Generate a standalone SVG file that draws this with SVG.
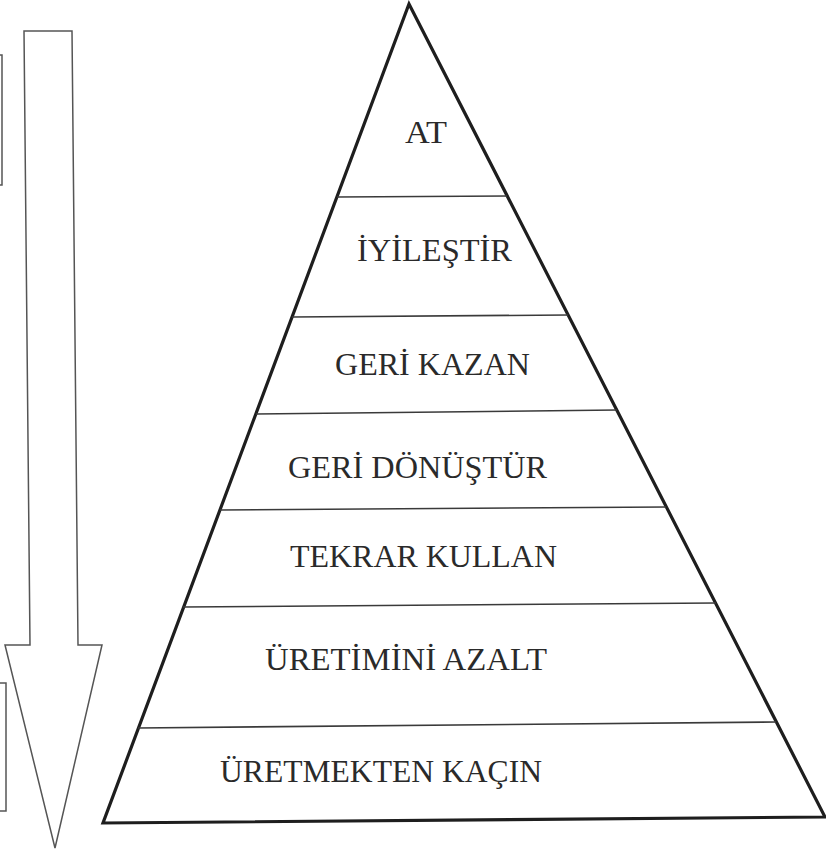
<svg xmlns="http://www.w3.org/2000/svg" width="826" height="860" viewBox="0 0 826 860">
<style>
.lbl{font-family:'Liberation Serif','Times New Roman',serif;font-size:31px;fill:#2a2a2a}
.div{stroke:#3a3a3a;stroke-width:1.6;fill:none}
.tri{stroke:#1e1e1e;stroke-width:3.2;fill:#fff;stroke-linejoin:miter}
.thin{stroke:#555;stroke-width:1.5;fill:#fff}
</style>
<rect width="826" height="860" fill="#fff"/>
<g id="side-box-top"><rect class="thin" x="-10" y="55" width="12" height="130"/></g>
<g id="side-box-bottom"><rect class="thin" x="-10" y="683" width="16" height="128"/></g>
<g id="arrow"><polygon class="thin" points="24,31 72,31 78,645 102,645 55,848 5,645 30,645"/></g>
<g id="pyramid"><polygon class="tri" points="409,4 825,817 103,823"/></g>
<g id="connectors">
<line class="div" x1="337" y1="197" x2="507" y2="196"/>
<line class="div" x1="292" y1="317" x2="568" y2="315"/>
<line class="div" x1="256" y1="414" x2="617" y2="410"/>
<line class="div" x1="220" y1="510" x2="666" y2="507"/>
<line class="div" x1="183" y1="607" x2="716" y2="603"/>
<line class="div" x1="138" y1="728" x2="776" y2="722"/>
</g>
<g id="tier-at"><text class="lbl" x="405" y="143" textLength="42" lengthAdjust="spacingAndGlyphs">AT</text></g>
<g id="tier-iyilestir"><text class="lbl" x="357" y="261" textLength="155" lengthAdjust="spacingAndGlyphs">İYİLEŞTİR</text></g>
<g id="tier-geri-kazan"><text class="lbl" x="335" y="375" textLength="195" lengthAdjust="spacingAndGlyphs">GERİ KAZAN</text></g>
<g id="tier-geri-donustur"><text class="lbl" x="288" y="478" textLength="259" lengthAdjust="spacingAndGlyphs">GERİ DÖNÜŞTÜR</text></g>
<g id="tier-tekrar-kullan"><text class="lbl" x="290" y="567" textLength="267" lengthAdjust="spacingAndGlyphs">TEKRAR KULLAN</text></g>
<g id="tier-uretimini-azalt"><text class="lbl" x="265" y="670" textLength="282" lengthAdjust="spacingAndGlyphs">ÜRETİMİNİ AZALT</text></g>
<g id="tier-uretmekten-kacin"><text class="lbl" x="220" y="782" textLength="322" lengthAdjust="spacingAndGlyphs">ÜRETMEKTEN KAÇIN</text></g>
</svg>
